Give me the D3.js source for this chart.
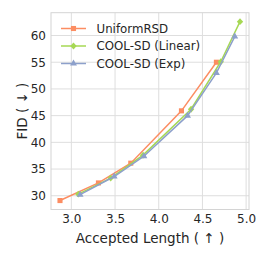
<!DOCTYPE html>
<html>
<head>
<meta charset="utf-8">
<script src="https://cdn.jsdelivr.net/npm/d3@7"></script>
<style>
  body { margin: 0; background: #fff; }
  text { font-family: "DejaVu Sans", sans-serif; fill: #262626; }
</style>
</head>
<body>
<svg width="268" height="261"></svg>
<script>
// data
var uniformX = [2.87, 3.31, 3.68, 4.26, 4.66];
var uniformY = [29.1, 32.4, 36.1, 45.9, 55.0];
var linearX = [3.08, 3.45, 3.82, 4.37, 4.71, 4.93];
var linearY = [30.3, 33.3, 37.6, 46.2, 55.1, 62.6];
var expX = [3.10, 3.49, 3.83, 4.33, 4.66, 4.87];
var expY = [30.2, 33.6, 37.4, 45.0, 53.0, 59.8];
var xTicks = [3.0, 3.5, 4.0, 4.5, 5.0];
var yTicks = [30, 35, 40, 45, 50, 55, 60];

var series = [
    { name: "UniformRSD", xs: uniformX, ys: uniformY, color: "#fc8d62", marker: "square" },
    { name: "COOL-SD (Linear)", xs: linearX, ys: linearY, color: "#a6d854", marker: "diamond" },
    { name: "COOL-SD (Exp)", xs: expX, ys: expY, color: "#8da0cb", marker: "triangle" }
];

// plot box (note: "top" is reserved on window, so use other names)
var axL = 51, axR = 249, axT = 12.7, axB = 209.5;
var svg = d3.select("svg");

// matplotlib style 5% margins
var allX = uniformX.concat(linearX, expX), allY = uniformY.concat(linearY, expY);
var x0 = d3.min(allX), x1 = d3.max(allX), y0 = d3.min(allY), y1 = d3.max(allY);
var x = d3.scaleLinear().domain([x0 - (x1 - x0) * 0.05, x1 + (x1 - x0) * 0.05]).range([axL, axR]);
var y = d3.scaleLinear().domain([y0 - (y1 - y0) * 0.05, y1 + (y1 - y0) * 0.05]).range([axB, axT]);

// grid
svg.selectAll("line.gx").data(xTicks).enter().append("line")
    .attr("x1", function (d) { return x(d); }).attr("x2", function (d) { return x(d); })
    .attr("y1", axT).attr("y2", axB)
    .attr("stroke", "#dedede").attr("stroke-width", 1);
svg.selectAll("line.gy").data(yTicks).enter().append("line")
    .attr("y1", function (d) { return y(d); }).attr("y2", function (d) { return y(d); })
    .attr("x1", axL).attr("x2", axR)
    .attr("stroke", "#dedede").attr("stroke-width", 1);

// spines
svg.append("rect").attr("x", axL).attr("y", axT)
    .attr("width", axR - axL).attr("height", axB - axT)
    .attr("fill", "none").attr("stroke", "#d4d4d4").attr("stroke-width", 1);

// axes (labels only)
var xAxis = svg.append("g").attr("transform", "translate(0," + axB + ")")
    .call(d3.axisBottom(x).tickValues(xTicks).tickFormat(d3.format(".1f")).tickSize(0).tickPadding(5));
var yAxis = svg.append("g").attr("transform", "translate(" + axL + ",0)")
    .call(d3.axisLeft(y).tickValues(yTicks).tickSize(0).tickPadding(5));
[xAxis, yAxis].forEach(function (a) {
    a.select(".domain").remove();
    a.selectAll("text").attr("font-size", "12px").attr("font-family", "DejaVu Sans").attr("fill", "#262626");
});

function markerPath(type, size) {
    if (type == "square") return d3.symbol().type(d3.symbolSquare).size(size)();
    if (type == "triangle") return d3.symbol().type(d3.symbolTriangle).size(size * 0.8)();
    var s = Math.sqrt(size) * 0.62;
    return "M0," + (-s * 1.1) + "L" + s + ",0L0," + (s * 1.1) + "L" + (-s) + ",0Z";
}

var line = d3.line()
    .x(function (d) { return x(d[0]); })
    .y(function (d) { return y(d[1]); });

series.forEach(function (s) {
    var pts = s.xs.map(function (v, i) { return [v, s.ys[i]]; });
    svg.append("path").datum(pts).attr("d", line)
        .attr("fill", "none").attr("stroke", s.color).attr("stroke-width", 1.5);
    svg.selectAll(null).data(pts).enter().append("path")
        .attr("transform", function (d) { return "translate(" + x(d[0]) + "," + y(d[1]) + ")"; })
        .attr("d", markerPath(s.marker, 26))
        .attr("fill", s.color);
});

// legend
var leg = svg.append("g");
series.forEach(function (s, i) {
    var ly = 28.5 + i * 17.5;
    leg.append("line").attr("x1", 61).attr("x2", 86).attr("y1", ly).attr("y2", ly)
        .attr("stroke", s.color).attr("stroke-width", 1.5);
    leg.append("path").attr("transform", "translate(73.5," + ly + ")")
        .attr("d", markerPath(s.marker, 26)).attr("fill", s.color);
    leg.append("text").attr("x", 96.5).attr("y", ly).attr("dy", "0.36em")
        .attr("font-size", "11.8px").text(s.name);
});

// axis titles
svg.append("text").attr("x", (axL + axR) / 2).attr("y", 243)
    .attr("text-anchor", "middle").attr("font-size", "13.5px")
    .text("Accepted Length ( ↑ )");
svg.append("text").attr("transform", "translate(22," + ((axT + axB) / 2) + ") rotate(-90)")
    .attr("text-anchor", "middle").attr("dy", "0.36em").attr("font-size", "13.5px")
    .text("FID ( ↓ )");
</script>
</body>
</html>
